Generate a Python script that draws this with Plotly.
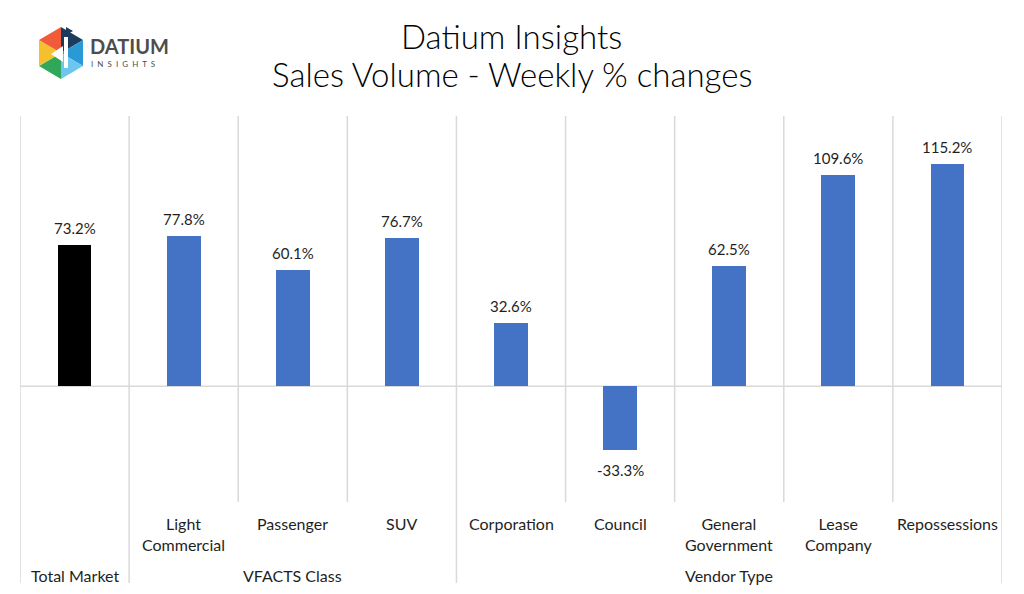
import plotly.graph_objects as go

# ---- data ----
sub_labels = ["", "Light<br>Commercial", "Passenger", "SUV", "Corporation",
              "Council", "General<br>Government", "Lease<br>Company", "Repossessions"]
values = [73.2, 77.8, 60.1, 76.7, 32.6, -33.3, 62.5, 109.6, 115.2]
group_labels = ["Total Market", "VFACTS Class", "Vendor Type"]
group_sizes = [1, 3, 5]
bar_colors = ["#000000"] + ["#4472C4"] * 8

FONT = "Lato"
LIGHT = 300
OFF = 8  # page body margin
W, H = 1024 - OFF, 594 - OFF
# plot area in reference pixels: x 20..1002, y 116..502
L, R, T, B = 20 - OFF, 1024 - 1002, 116 - OFF, 594 - 502
PW, PH = W - L - R, H - T - B


def px(xp):
    return (xp - OFF - L) / PW


def py(yp):
    return (H - B - (yp - OFF)) / PH


n = len(values)
xs = list(range(n))

fig = go.Figure()
fig.add_trace(go.Bar(x=xs, y=values, width=0.31, marker_color=bar_colors,
                     marker_line_width=0, hoverinfo="skip"))

shapes = []
grid = "#d9d9d9"
# zero line
shapes.append(dict(type="line", xref="x", yref="y", x0=-0.5, x1=n - 0.5, y0=0, y1=0,
                   line=dict(color=grid, width=1.5), layer="below"))
# vertical category dividers
bounds = [0]
acc = 0
for s in group_sizes:
    acc += s
    bounds.append(acc)
for i in range(n + 1):
    y0 = py(583) if i in bounds else 0
    shapes.append(dict(type="line", xref="x", yref="paper", x0=i - 0.5, x1=i - 0.5,
                       y0=y0, y1=1, line=dict(color=grid, width=1.5), layer="below"))

# logo (decorative)
cx, cy = 61, 53
verts = [(61, 27), (83, 40), (83, 66), (61, 79), (39, 66), (39, 40)]
logo_cols = ["#1d3b5c", "#2a9ad6", "#6ec6ee", "#2fa85a", "#f4c02e", "#f15b3a"]
for k in range(6):
    a = verts[k]
    b = verts[(k + 1) % 6]
    path = f"M {px(cx)} {py(cy)} L {px(a[0])} {py(a[1])} L {px(b[0])} {py(b[1])} Z"
    shapes.append(dict(type="path", xref="paper", yref="paper", path=path,
                       fillcolor=logo_cols[k], line=dict(width=0)))
path = f"M {px(51)} {py(54)} L {px(63)} {py(46)} L {px(63)} {py(62)} Z"
shapes.append(dict(type="path", xref="paper", yref="paper", path=path,
                   fillcolor="white", line=dict(width=0)))
shapes.append(dict(type="rect", xref="paper", yref="paper", x0=px(64), x1=px(68),
                   y0=py(68), y1=py(37), fillcolor="white", line=dict(width=0)))
path = f"M {px(66)} {py(27)} L {px(73)} {py(31)} L {px(66)} {py(35)} Z"
shapes.append(dict(type="path", xref="paper", yref="paper", path=path,
                   fillcolor="#1d3b5c", line=dict(width=0)))

annotations = []
# title
annotations.append(dict(text="Datium Insights", xref="paper", yref="paper",
                        x=px(512), y=py(36), showarrow=False, xanchor="center", yanchor="middle",
                        font=dict(family=FONT, size=33, color="#000000", weight=LIGHT)))
annotations.append(dict(text="Sales Volume - Weekly % changes", xref="paper", yref="paper",
                        x=px(512), y=py(74), showarrow=False, xanchor="center", yanchor="middle",
                        font=dict(family=FONT, size=33, color="#000000", weight=LIGHT)))
annotations.append(dict(text="<b>DATIUM</b>", xref="paper", yref="paper",
                        x=px(88), y=py(46), showarrow=False, xanchor="left", yanchor="middle",
                        font=dict(family=FONT, size=20, color="#4d4d4d")))
nb = "\u00a0\u00a0"
annotations.append(dict(text=nb.join("INSIGHTS"), xref="paper", yref="paper",
                        x=px(89), y=py(64), showarrow=False, xanchor="left", yanchor="middle",
                        font=dict(family=FONT, size=8, color="#4d4d4d")))

TXT = "#1f1f1f"
# data labels
for i, v in enumerate(values):
    annotations.append(dict(text=f"{v:.1f}%", x=i, y=v, xref="x", yref="y", showarrow=False,
                            xanchor="center", yanchor="middle", yshift=17 if v >= 0 else -20,
                            font=dict(family=FONT, size=15, color=TXT)))
# category labels
for i, lab in enumerate(sub_labels):
    if lab:
        annotations.append(dict(text=lab, x=i, y=py(512), xref="x", yref="paper",
                                showarrow=False, xanchor="center", yanchor="top",
                                font=dict(family=FONT, size=16, color=TXT)))
start = 0
for g, s in zip(group_labels, group_sizes):
    center = start + (s - 1) / 2
    annotations.append(dict(text=g, x=center, y=py(575), xref="x", yref="paper",
                            showarrow=False, xanchor="center", yanchor="middle",
                            font=dict(family=FONT, size=16, color=TXT)))
    start += s

fig.update_layout(
    width=W, height=H,
    margin=dict(l=L, r=R, t=T, b=B),
    plot_bgcolor="white", paper_bgcolor="white",
    showlegend=False,
    xaxis=dict(range=[-0.5, n - 0.5], showgrid=False, zeroline=False,
               showticklabels=False, showline=False, fixedrange=True),
    yaxis=dict(range=[-60, 140], visible=False, fixedrange=True),
    shapes=shapes,
    annotations=annotations,
    bargap=0,
)

fig.write_html("out.html")
